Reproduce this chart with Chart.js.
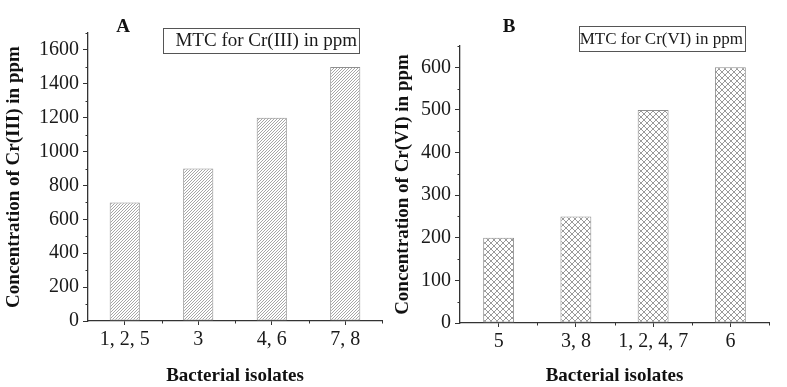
<!DOCTYPE html>
<html>
<head>
<meta charset="utf-8">
<script src="https://cdn.jsdelivr.net/npm/chart.js@4.4.0/dist/chart.umd.min.js"></script>
<style>
  html, body { margin: 0; padding: 0; background: #fff; }
  #wrap { position: relative; width: 787px; height: 387px; overflow: hidden; }
  #chartA { position: absolute; left: 0; top: 0; }
  #chartB { position: absolute; left: 392px; top: 0; }
</style>
</head>
<body>
<div id="wrap">
  <canvas id="chartA" width="400" height="387"></canvas>
  <canvas id="chartB" width="395" height="387"></canvas>
</div>
<script>
// Panel A: Cr(III)
const isolatesA = ['1, 2, 5', '3', '4, 6', '7, 8'];
const mtcCr3 = [700, 900, 1200, 1500];
// Panel B: Cr(VI)
const isolatesB = ['5', '3, 8', '1, 2, 4, 7', '6'];
const mtcCr6 = [200, 250, 500, 600];

const serif = '"Liberation Serif", "Times New Roman", serif';
const axisColor = '#333';

// hatch patterns for the bars
function makePattern(cross) {
  const c = document.createElement('canvas');
  const s = cross ? 6 : 3;
  c.width = s; c.height = s;
  const g = c.getContext('2d');
  g.fillStyle = '#fff';
  g.fillRect(0, 0, s, s);
  g.strokeStyle = cross ? '#9a9a9a' : '#a6a6a6';
  g.lineWidth = 1;
  g.beginPath();
  g.moveTo(0, s); g.lineTo(s, 0);
  g.moveTo(-1, 1); g.lineTo(1, -1);
  g.moveTo(s - 1, s + 1); g.lineTo(s + 1, s - 1);
  if (cross) {
    g.moveTo(0, 0); g.lineTo(s, s);
    g.moveTo(-1, s - 1); g.lineTo(1, s + 1);
    g.moveTo(s - 1, -1); g.lineTo(s + 1, 1);
  }
  g.stroke();
  return g.createPattern(c, 'repeat');
}

// minor ticks, panel letter and boxed legend
const decor = {
  id: 'decor',
  afterDraw(chart, args, opts) {
    const ctx = chart.ctx;
    const x = chart.scales.x, y = chart.scales.y;
    ctx.save();
    ctx.strokeStyle = axisColor;
    ctx.lineWidth = 1;
    ctx.beginPath();
    // minor y ticks
    for (let v = opts.minorStep; v <= y.max; v += opts.minorStep) {
      if (v % opts.majorStep === 0) continue;
      const py = Math.round(y.getPixelForValue(v)) + 0.5;
      ctx.moveTo(y.right - 2.5, py); ctx.lineTo(y.right, py);
    }
    // minor x ticks at category boundaries
    const n = x.ticks.length;
    for (let i = 1; i <= n; i++) {
      const px = Math.round(x.left + (x.right - x.left) * i / n) + 0.5;
      ctx.moveTo(px, x.top); ctx.lineTo(px, x.top + 2.5);
    }
    ctx.stroke();

    // panel letter
    ctx.fillStyle = '#111';
    ctx.font = 'bold 19px ' + serif;
    ctx.textAlign = 'center';
    ctx.textBaseline = 'middle';
    ctx.fillText(opts.letter, opts.letterX, opts.letterY);

    // legend box
    const b = opts.box;
    ctx.fillStyle = '#fff';
    ctx.fillRect(b.left, b.top, b.right - b.left, b.bottom - b.top);
    ctx.strokeStyle = '#555';
    ctx.strokeRect(b.left + 0.5, b.top + 0.5, b.right - b.left, b.bottom - b.top);
    ctx.fillStyle = '#1a1a1a';
    ctx.font = opts.legendSize + 'px ' + serif;
    ctx.textAlign = 'right';
    ctx.fillText(chart.data.datasets[0].label, b.right - 2, (b.top + b.bottom) / 2 + 1);
    ctx.restore();
  }
};

function makeChart(id, labels, values, opts) {
  return new Chart(document.getElementById(id), {
    type: 'bar',
    data: {
      labels: labels,
      datasets: [{
        label: opts.legend,
        data: values,
        backgroundColor: makePattern(opts.cross),
        borderColor: '#8f8f8f',
        borderWidth: 1,
        borderSkipped: false,
        barPercentage: opts.barPct,
        categoryPercentage: 1
      }]
    },
    options: {
      responsive: false,
      animation: false,
      layout: { padding: { left: 0, top: opts.top, right: opts.right, bottom: 0 } },
      plugins: {
        legend: { display: false },
        tooltip: { enabled: false },
        decor: opts.decor
      },
      scales: {
        x: {
          offset: true,
          grid: { display: true, offset: false, drawOnChartArea: false, drawTicks: true, tickLength: 4, tickColor: axisColor, lineWidth: 1 },
          border: { display: true, color: axisColor, width: 1.3 },
          ticks: { color: '#1a1a1a', font: { family: serif, size: 20 }, padding: 3, maxRotation: 0, autoSkip: false },
          title: { display: true, text: 'Bacterial isolates', color: '#111', font: { family: serif, size: 19, weight: 'bold' }, padding: { top: 0, bottom: 0 } },
          afterFit(scale) { scale.height = opts.xHeight; }
        },
        y: {
          min: 0,
          max: opts.yMax,
          grid: { display: true, drawOnChartArea: false, drawTicks: true, tickLength: 5, tickColor: axisColor, lineWidth: 1 },
          border: { display: true, color: axisColor, width: 1.3 },
          ticks: { stepSize: opts.step, includeBounds: false, color: '#1a1a1a', font: { family: serif, size: 20 }, padding: 4,
                   callback: (v) => String(v) },
          title: { display: true, text: opts.yTitle, color: '#111', font: { family: serif, size: 19, weight: 'bold' }, padding: { top: opts.titlePad, bottom: 0 } },
          afterFit(scale) { scale.width = opts.yWidth; }
        }
      }
    },
    plugins: [decor]
  });
}

makeChart('chartA', isolatesA, mtcCr3, {
  legend: 'MTC for Cr(III) in ppm',
  yTitle: 'Concentration of Cr(III) in ppm',
  cross: false, barPct: 0.41,
  top: 33, right: 18, xHeight: 66, yWidth: 88, titlePad: 3,
  yMax: 1700, step: 200,
  decor: { minorStep: 100, majorStep: 200, letter: 'A', letterX: 123, letterY: 27, legendSize: 19,
           box: { left: 163, top: 28, right: 359, bottom: 53 } }
});

makeChart('chartB', isolatesB, mtcCr6, {
  legend: 'MTC for Cr(VI) in ppm',
  yTitle: 'Concentration of Cr(VI) in ppm',
  cross: true, barPct: 0.40,
  top: 46, right: 18, xHeight: 64, yWidth: 68, titlePad: 0,
  yMax: 650, step: 100,
  decor: { minorStep: 50, majorStep: 100, letter: 'B', letterX: 117, letterY: 27, legendSize: 17,
           box: { left: 187, top: 26, right: 353, bottom: 51 } }
});
</script>
</body>
</html>
